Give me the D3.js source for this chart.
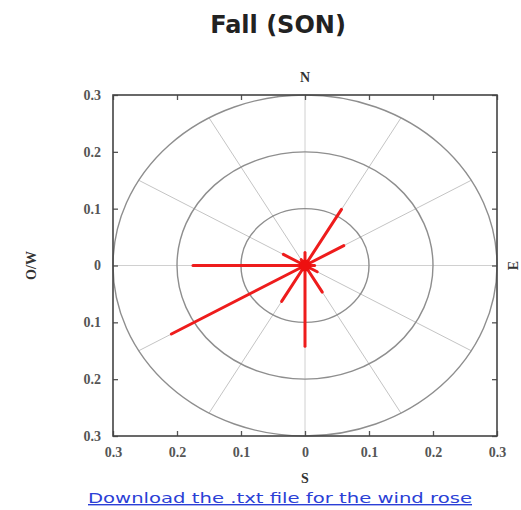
<!DOCTYPE html>
<html>
<head>
<meta charset="utf-8">
<script src="https://cdn.jsdelivr.net/npm/d3@7"></script>
<style>
  body { margin: 0; background: #fff; }
  svg { display: block; }
</style>
</head>
<body>
<script>
// wind rose directions (degrees from north) and frequency values
var directions = [0, 30, 60, 90, 120, 150, 180, 210, 240, 270, 300, 330];
var frequencies = [0.023, 0.114, 0.070, 0.015, 0.022, 0.054, 0.142, 0.073, 0.241, 0.175, 0.039, 0.012];
var rings = [0.1, 0.2, 0.3];
var tickValues = [-0.3, -0.2, -0.1, 0, 0.1, 0.2, 0.3];
var spokeAngles = [30, 60, 120, 150, 210, 240, 300, 330];

var width = 521, height = 510;

var svg = d3.select("body").append("svg")
    .attr("width", width)
    .attr("height", height);

var x = d3.scaleLinear().domain([-0.3, 0.3]).range([113, 497]);
var y = d3.scaleLinear().domain([-0.3, 0.3]).range([436, 95]);

//title
svg.append("text")
    .attr("x", 278)
    .attr("y", 33)
    .attr("text-anchor", "middle")
    .style("font-family", "'DejaVu Sans', Verdana, sans-serif")
    .style("font-weight", "bold")
    .style("font-size", "24px")
    .style("fill", "#222")
    .text("Fall (SON)");

var plot = svg.append("g");

//cross lines
plot.append("line")
    .attr("x1", x(-0.3)).attr("x2", x(0.3))
    .attr("y1", y(0)).attr("y2", y(0))
    .attr("stroke", "#d0d0d0").attr("stroke-width", 1);
plot.append("line")
    .attr("x1", x(0)).attr("x2", x(0))
    .attr("y1", y(-0.3)).attr("y2", y(0.3))
    .attr("stroke", "#d0d0d0").attr("stroke-width", 1);

//spokes
plot.selectAll(".spoke")
    .data(spokeAngles)
    .enter()
    .append("line")
    .attr("class", "spoke")
    .attr("x1", x(0)).attr("y1", y(0))
    .attr("x2", function(d) { return x(0.3 * Math.sin(d * Math.PI / 180)); })
    .attr("y2", function(d) { return y(0.3 * Math.cos(d * Math.PI / 180)); })
    .attr("stroke", "#c4c4c4").attr("stroke-width", 1);

//rings
plot.selectAll(".ring")
    .data(rings)
    .enter()
    .append("ellipse")
    .attr("class", "ring")
    .attr("cx", x(0)).attr("cy", y(0))
    .attr("rx", function(d) { return x(d) - x(0); })
    .attr("ry", function(d) { return y(0) - y(d); })
    .attr("fill", "none")
    .attr("stroke", "#8e8e8e")
    .attr("stroke-width", 1.4);

//petals
plot.selectAll(".petal")
    .data(directions)
    .enter()
    .append("line")
    .attr("class", "petal")
    .attr("x1", x(0)).attr("y1", y(0))
    .attr("x2", function(d, i) { return x(frequencies[i] * Math.sin(d * Math.PI / 180)); })
    .attr("y2", function(d, i) { return y(frequencies[i] * Math.cos(d * Math.PI / 180)); })
    .attr("stroke", "#ee1c1c")
    .attr("stroke-width", 3)
    .attr("stroke-linecap", "round");

plot.append("circle")
    .attr("cx", x(0)).attr("cy", y(0))
    .attr("r", 6)
    .attr("fill", "#ee1010");

//axes
var fmt = function(d) { return String(+Math.abs(d).toFixed(1)); };

var axisFont = function(g) {
    g.select(".domain").remove();
    g.selectAll(".tick line").attr("stroke", "#555").attr("stroke-width", 1.3);
    g.selectAll(".tick text")
        .style("font-family", "'Liberation Serif', 'Times New Roman', serif")
        .style("font-size", "14px")
        .style("font-weight", "bold")
        .style("fill", "#555");
};

svg.append("g")
    .attr("transform", "translate(0," + y(-0.3) + ")")
    .call(d3.axisBottom(x).tickValues(tickValues).tickSize(-5).tickPadding(11).tickFormat(fmt))
    .call(axisFont);
svg.append("g")
    .attr("transform", "translate(0," + y(0.3) + ")")
    .call(d3.axisTop(x).tickValues(tickValues).tickSize(-5).tickFormat(""))
    .call(axisFont);
svg.append("g")
    .attr("transform", "translate(" + x(-0.3) + ",0)")
    .call(d3.axisLeft(y).tickValues(tickValues).tickSize(-5).tickPadding(12).tickFormat(fmt))
    .call(axisFont);
svg.append("g")
    .attr("transform", "translate(" + x(0.3) + ",0)")
    .call(d3.axisRight(y).tickValues(tickValues).tickSize(-5).tickFormat(""))
    .call(axisFont);

//frame
svg.append("rect")
    .attr("x", x(-0.3)).attr("y", y(0.3))
    .attr("width", x(0.3) - x(-0.3))
    .attr("height", y(-0.3) - y(0.3))
    .attr("fill", "none")
    .attr("stroke", "#444")
    .attr("stroke-width", 1.6);

//compass labels
var serif = "'Liberation Serif', 'Times New Roman', serif";
svg.append("text").attr("x", x(0)).attr("y", 82)
    .attr("text-anchor", "middle")
    .style("font-family", serif).style("font-size", "14px").style("font-weight", "bold").style("fill", "#333")
    .text("N");
svg.append("text").attr("x", x(0)).attr("y", 483)
    .attr("text-anchor", "middle")
    .style("font-family", serif).style("font-size", "14px").style("font-weight", "bold").style("fill", "#333")
    .text("S");
svg.append("text")
    .attr("transform", "translate(36," + y(0) + ") rotate(-90)")
    .attr("text-anchor", "middle")
    .style("font-family", serif).style("font-size", "14px").style("font-weight", "bold").style("fill", "#333")
    .text("O/W");
svg.append("text")
    .attr("transform", "translate(518," + y(0) + ") rotate(-90)")
    .attr("text-anchor", "middle")
    .style("font-family", serif).style("font-size", "14px").style("font-weight", "bold").style("fill", "#333")
    .text("E");

//download link
svg.append("text")
    .attr("x", 88)
    .attr("y", 503)
    .attr("textLength", 384)
    .attr("lengthAdjust", "spacingAndGlyphs")
    .style("font-family", "'DejaVu Sans', Verdana, sans-serif")
    .style("font-size", "14px")
    .style("fill", "#2b3fd6")
    .style("text-decoration", "underline")
    .text("Download the .txt file for the wind rose");
</script>
</body>
</html>
